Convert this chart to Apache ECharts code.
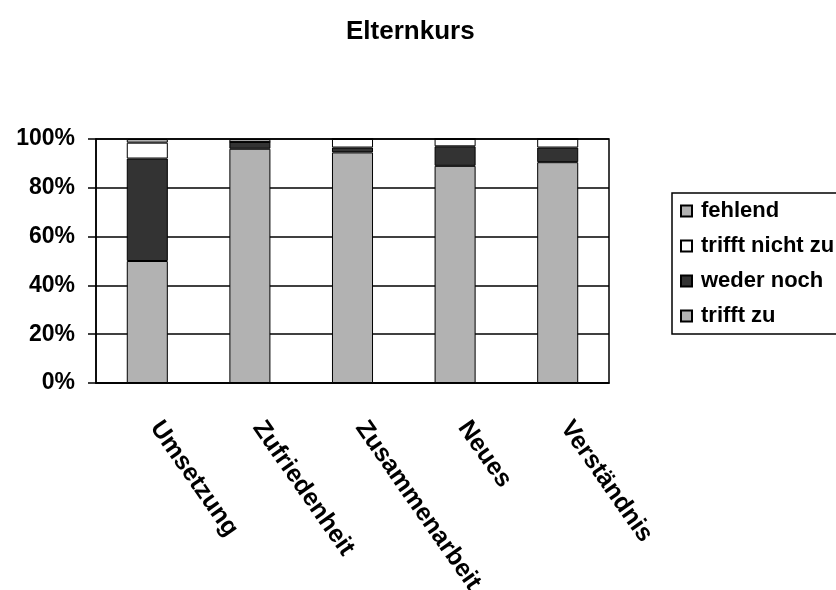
<!DOCTYPE html>
<html>
<head>
<meta charset="utf-8">
<script src="https://cdn.jsdelivr.net/npm/echarts@6/dist/echarts.min.js"></script>
<style>html,body{margin:0;padding:0;background:#fff;}#c{width:836px;height:590px;}</style>
</head>
<body>
<div id="c"></div>
<script>
var categories = ['Umsetzung', 'Zufriedenheit', 'Zusammenarbeit', 'Neues', 'Verständnis'];
var trifftZu = [50, 96, 94.5, 89, 90.5];
var wederNoch = [42, 2.8, 2, 8, 6];
var trifftNichtZu = [6.5, 0, 3.5, 3, 3.5];
var fehlend = [1.5, 1.2, 0, 0, 0];
var yTicks = [0, 20, 40, 60, 80, 100];

var FONT = '"Liberation Sans", Arial, sans-serif';
var chart = echarts.init(document.getElementById('c'), null, {renderer: 'canvas'});
function bar(name, data, color) {
  return {
    name: name, type: 'bar', stack: 'all', data: data,
    barCategoryGap: '60%',
    itemStyle: {color: color, borderColor: '#000', borderWidth: 1},
    emphasis: {disabled: true}
  };
}
chart.setOption({
  animation: false,
  backgroundColor: '#fff',
  title: {
    text: 'Elternkurs', left: 341, top: 14,
    textStyle: {fontFamily: FONT, fontWeight: 'bold', fontSize: 26, color: '#000'}
  },
  legend: {
    orient: 'vertical', left: 672, top: 193,
    data: ['fehlend', 'trifft nicht zu', 'weder noch', 'trifft zu'],
    itemWidth: 11, itemHeight: 11, itemGap: 13,
    padding: [7, 30, 7, 8],
    borderColor: '#000', borderWidth: 1.5,
    icon: 'rect',
    textStyle: {fontFamily: FONT, fontWeight: 'bold', fontSize: 22, color: '#000', padding: [0, 0, 0, 4]}
  },
  grid: {left: 96, right: 227, top: 139, bottom: 207, show: true, borderColor: '#000', borderWidth: 1.5,
         containLabel: false, outerBoundsMode: 'none'},
  xAxis: {
    type: 'category', data: categories,
    axisLine: {lineStyle: {color: '#000', width: 1.5}},
    axisTick: {length: 8, lineStyle: {color: '#000', width: 1.5}},
    axisLabel: {rotate: -55, margin: 29, padding: [0, 0, 0, 14], fontFamily: FONT, fontWeight: 'bold', fontSize: 25, color: '#000', interval: 0}
  },
  yAxis: {
    type: 'value', min: yTicks[0], max: yTicks[yTicks.length - 1], interval: yTicks[1] - yTicks[0],
    axisLine: {show: true, lineStyle: {color: '#000', width: 1.5}},
    axisTick: {show: true, length: 8, lineStyle: {color: '#000', width: 1.5}},
    splitLine: {lineStyle: {color: '#000', width: 1.5}},
    axisLabel: {formatter: '{value}%', margin: 21, fontFamily: FONT, fontWeight: 'bold', fontSize: 23, color: '#000'}
  },
  series: [
    bar('trifft zu', trifftZu, '#b2b2b2'),
    bar('weder noch', wederNoch, '#333333'),
    bar('trifft nicht zu', trifftNichtZu, '#ffffff'),
    bar('fehlend', fehlend, '#b2b2b2')
  ]
});
</script>
</body>
</html>
